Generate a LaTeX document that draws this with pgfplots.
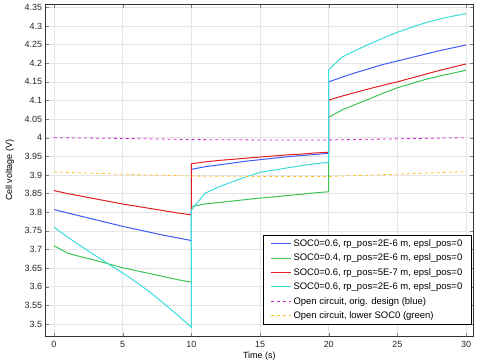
\documentclass[border=0pt]{standalone}
\usepackage{pgfplots}
\pgfplotsset{compat=1.18}
\usepackage{fontspec}
\setmainfont{Liberation Sans}
\definecolor{cblue}{RGB}{60,90,245}
\definecolor{cgreen}{RGB}{60,195,85}
\definecolor{cred}{RGB}{225,30,35}
\definecolor{ccyan}{RGB}{60,220,220}
\definecolor{cmag}{RGB}{205,40,205}
\definecolor{cyel}{RGB}{255,195,40}
\begin{document}
\begin{tikzpicture}
\begin{axis}[
  scale only axis, width=427bp, height=331bp,
  xmin=-0.6, xmax=30.5, ymin=3.468, ymax=4.357,
  xtick={0,5,10,15,20,25,30},
  ytick={3.5,3.55,3.6,3.65,3.7,3.75,3.8,3.85,3.9,3.95,4,4.05,4.1,4.15,4.2,4.25,4.3,4.35},
  yticklabel style={/pgf/number format/fixed,/pgf/number format/precision=2},
  /pgf/number format/assume math mode=true,
  tick label style={font=\fontsize{9}{10}\selectfont, text=black!85},
  label style={font=\fontsize{9}{10}\selectfont},
  xlabel={Time (s)}, ylabel={Cell voltage (V)},
  xlabel style={yshift=3pt},
  ylabel style={yshift=4pt},
  xticklabel style={yshift=-2pt},
  tick align=inside, major tick length=3pt,
  axis line style={black!80, line width=0.8pt},
  grid=major, grid style={black!10, line width=0.5pt},
  legend style={at={(0.997,0.033)}, anchor=south east, font=\fontsize{9.5}{10}\selectfont,
    draw=black, line width=0.9pt, row sep=2.1pt, inner xsep=7pt, inner ysep=2.5pt},
  legend image code/.code={\draw[#1] (0cm,0cm) -- (0.7cm,0cm);},
  legend cell align=left,
  every axis plot/.append style={line width=1pt},
]
\addplot[cblue] coordinates {
(0,3.807)(1,3.798)(2,3.789)(3,3.78)(4,3.771)(5,3.762)(6,3.754)(7,3.746)(8,3.738)(9,3.731)(10,3.724)
(10,3.915)(11,3.922)(12,3.927)(13,3.932)(14,3.937)(15,3.941)(16,3.945)(17,3.949)(18,3.952)(19,3.955)(20,3.958)
(20,4.150)(21,4.163)(22,4.175)(23,4.186)(24,4.197)(25,4.206)(26,4.215)(27,4.224)(28,4.233)(29,4.241)(30,4.249)};
\addlegendentry{SOC0=0.6, rp\_pos=2E-6 m, epsl\_pos=0}
\addplot[cgreen] coordinates {
(0,3.710)(1,3.690)(2,3.680)(3,3.671)(4,3.661)(5,3.651)(6,3.643)(7,3.635)(8,3.627)(9,3.619)(10,3.612)
(10,3.815)(11,3.822)(12,3.826)(13,3.83)(14,3.834)(15,3.838)(16,3.841)(17,3.845)(18,3.848)(19,3.852)(20,3.855)
(20,4.055)(21,4.075)(22,4.09)(23,4.105)(24,4.12)(25,4.134)(26,4.145)(27,4.156)(28,4.165)(29,4.173)(30,4.181)};
\addlegendentry{SOC0=0.4, rp\_pos=2E-6 m, epsl\_pos=0}
\addplot[cred] coordinates {
(0,3.858)(1,3.85)(2,3.843)(3,3.836)(4,3.829)(5,3.822)(6,3.816)(7,3.81)(8,3.804)(9,3.798)(10,3.793)
(10,3.930)(11,3.935)(12,3.939)(13,3.942)(14,3.945)(15,3.948)(16,3.951)(17,3.954)(18,3.956)(19,3.959)(20,3.961)
(20,4.101)(21,4.112)(22,4.122)(23,4.132)(24,4.141)(25,4.15)(26,4.16)(27,4.17)(28,4.18)(29,4.189)(30,4.198)};
\addlegendentry{SOC0=0.6, rp\_pos=5E-7 m, epsl\_pos=0}
\addplot[ccyan] coordinates {
(0,3.760)(1,3.733)(2,3.708)(3,3.684)(4,3.66)(5,3.637)(6,3.612)(7,3.585)(8,3.555)(9,3.524)(10,3.491)
(10,3.806)(11,3.851)(12,3.868)(13,3.882)(14,3.895)(15,3.907)(16,3.913)(17,3.919)(18,3.925)(19,3.93)(20,3.934)
(20,4.183)(21,4.217)(22,4.235)(23,4.252)(24,4.268)(25,4.283)(26,4.296)(27,4.308)(28,4.318)(29,4.326)(30,4.333)};
\addlegendentry{SOC0=0.6, rp\_pos=2E-6 m, epsl\_pos=0}
\addplot[cmag, dashed, line width=0.8pt] coordinates {
(0,4.0)(5,3.998)(10,3.995)(15,3.994)(20,3.994)(25,3.997)(30,4.0)};
\addlegendentry{Open circuit, orig. design (blue)}
\addplot[cyel, dashed, line width=0.8pt] coordinates {
(0,3.908)(5,3.902)(10,3.897)(15,3.896)(20,3.896)(25,3.902)(30,3.909)};
\addlegendentry{Open circuit, lower SOC0 (green)}
\end{axis}
\pgfresetboundingbox
\path ([shift={(-45.7bp,-27bp)}]current axis.south west) rectangle ([shift={(8bp,4.7bp)}]current axis.north east);
\end{tikzpicture}
\end{document}
